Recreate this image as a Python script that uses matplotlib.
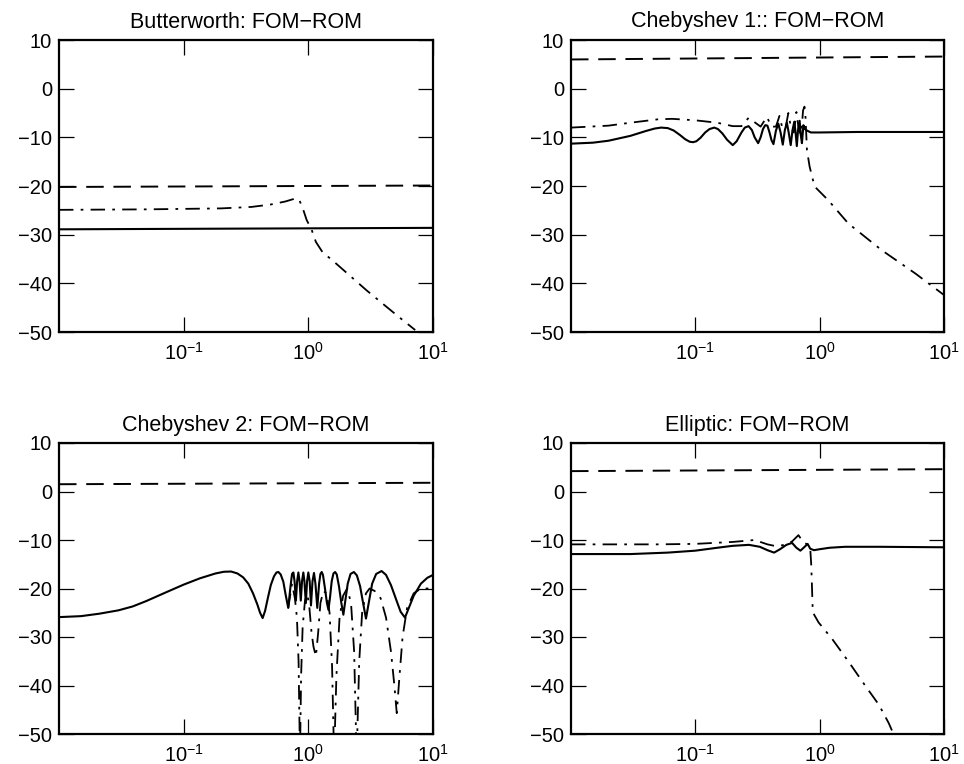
import matplotlib
matplotlib.use("Agg")
import matplotlib.pyplot as plt
from matplotlib.ticker import FixedLocator, NullLocator, LogFormatterSciNotation

# ---- Butterworth ----
bw_dash_f = [0.01, 10]
bw_dash = [-20.2, -19.9]
bw_solid_f = [0.01, 10]
bw_solid = [-28.9, -28.6]
bw_dd_f = [0.01, 0.05, 0.2, 0.35, 0.5, 0.65, 0.78, 0.84, 0.9, 0.97, 1.06, 1.15, 1.3,
           1.58, 2.0, 2.92, 4.0, 5.5, 7.2]
bw_dd = [-24.9, -24.8, -24.6, -24.3, -23.8, -23.2, -22.6, -22.7, -24.5, -27.0, -28.9,
         -31.5, -33.6, -35.4, -37.7, -41.4, -44.3, -47.2, -49.6]

# ---- Chebyshev 1 ----
c1_dash_f = [0.01, 10]
c1_dash = [6.0, 6.6]
c1_solid_f = [0.01, 0.015, 0.02, 0.03, 0.04, 0.047, 0.053, 0.06, 0.067, 0.075, 0.083,
              0.09, 0.096, 0.102, 0.11, 0.12, 0.13, 0.142, 0.152, 0.165, 0.18, 0.2,
              0.215, 0.235, 0.25, 0.268, 0.285, 0.3, 0.32, 0.335, 0.35, 0.365, 0.38,
              0.395, 0.41, 0.425, 0.445, 0.465, 0.485, 0.505, 0.525, 0.545, 0.565,
              0.585, 0.605, 0.625, 0.64, 0.655, 0.67, 0.69, 0.705, 0.72, 0.74, 0.76,
              0.79, 0.85, 1.0, 2.0, 10]
c1_solid = [-11.3, -11.1, -10.7, -9.7, -8.7, -8.2, -8.0, -8.1, -8.6, -9.5, -10.4,
            -10.9, -11.0, -10.8, -10.1, -9.0, -8.3, -8.0, -8.3, -9.2, -10.5, -11.6,
            -10.8, -9.0, -8.0, -7.7, -8.5, -10.0, -11.2, -10.0, -8.3, -7.5, -7.6,
            -9.0, -10.6, -11.4, -8.6, -7.2, -9.0, -11.5, -8.5, -7.0, -9.2,
            -11.6, -8.5, -6.8, -9.0, -11.8, -8.5, -6.6, -9.5, -11.2, -7.5, -8.3,
            -8.6, -9.0, -9.0, -8.9, -8.9]
c1_dd_f = [0.01, 0.02, 0.03, 0.05, 0.065, 0.1, 0.15, 0.2, 0.235, 0.268, 0.3, 0.335,
           0.376, 0.41, 0.445, 0.475, 0.5, 0.53, 0.56, 0.59, 0.62, 0.65, 0.68, 0.71,
           0.735, 0.755, 0.77, 0.79, 0.83, 0.91, 1.17, 1.7, 3.16, 5.9, 10]
c1_dd = [-8.0, -7.6, -7.0, -6.3, -6.2, -6.5, -7.0, -7.7, -7.7, -6.0, -6.9, -7.8,
         -5.8, -7.8, -7.8, -5.6, -8.0, -8.2, -5.0, -8.3, -9.0, -4.8, -8.5, -9.5,
         -4.5, -3.7, -6.0, -12.6, -16.0, -20.1, -22.9, -27.7, -33.2, -38.0, -42.4]

# ---- Chebyshev 2 ----
c2_dash_f = [0.01, 10]
c2_dash = [1.5, 1.8]
c2_solid_f = [0.01, 0.015, 0.021, 0.03, 0.039, 0.05, 0.072, 0.1, 0.135, 0.18, 0.21,
              0.24, 0.27, 0.3, 0.33, 0.36, 0.39, 0.41, 0.43, 0.45, 0.475, 0.5, 0.53,
              0.555, 0.575, 0.6, 0.63, 0.66, 0.69, 0.72, 0.74, 0.759, 0.775, 0.795,
              0.813, 0.832, 0.85, 0.87, 0.89, 0.912, 0.93, 0.955, 0.977, 1.0, 1.025,
              1.05, 1.08, 1.11, 1.14, 1.18, 1.22, 1.25, 1.28, 1.31, 1.36, 1.41, 1.45,
              1.49, 1.54, 1.59, 1.64, 1.69, 1.76, 1.84, 1.91, 1.98, 2.07, 2.18, 2.32,
              2.45, 2.6, 2.75, 2.9, 3.05, 3.25, 3.5, 3.87, 4.2, 4.6, 5.1, 5.5, 5.96,
              6.4, 7.0, 8.0, 9.0, 10]
c2_solid = [-25.9, -25.7, -25.2, -24.5, -23.7, -22.6, -20.8, -19.2, -17.9, -16.9, -16.55,
            -16.5, -16.9, -17.7, -19.0, -21.0, -23.3, -25.0, -26.1, -24.6, -21.8, -19.3, -17.5,
            -16.7, -16.6, -17.1, -18.6, -21.5, -24.0, -19.5, -17.0, -16.7, -18.5, -22.5,
            -18.5, -16.7, -18.5, -22.5, -18.5, -16.7, -18.5, -23.0, -18.5, -16.7, -18.5,
            -23.5, -18.5, -16.8, -19.0, -24.0, -19.0, -17.0, -16.6, -17.2, -20.0, -23.0, -24.4,
            -22.0, -18.5, -16.9, -16.6, -17.1, -19.5, -23.0, -25.4, -22.5, -19.0, -17.0, -16.6,
            -17.3, -19.5, -23.0, -26.2, -23.0, -19.0, -17.0, -16.4, -17.2, -19.3, -22.5, -24.8, -26.0,
            -24.0, -21.5, -19.0, -17.8, -17.2]
c2_dd_f = [0.69, 0.74, 0.78, 0.81, 0.835, 0.857, 0.875, 0.9, 0.94, 0.98, 1.02, 1.06,
           1.1, 1.15, 1.2, 1.25, 1.32, 1.4, 1.48, 1.55, 1.61, 1.68, 1.78, 1.9, 2.05,
           2.2, 2.33, 2.44, 2.56, 2.7, 2.9, 3.1, 3.4, 3.8, 4.2, 4.6, 4.9, 5.12, 5.35,
           5.7, 6.2, 7.0, 8.0, 10]
c2_dd = [-24.0, -19.0, -22.0, -26.0, -35.0, -55.0, -38.0, -28.0, -22.5, -21.0, -24.0, -29.0,
         -32.0, -34.0, -29.0, -23.0, -20.5, -21.0, -25.0, -36.0, -55.0, -38.0, -26.0, -21.5, -20.0,
         -23.0, -33.0, -55.0, -35.0, -25.0, -21.0, -20.0, -20.5, -22.0, -26.0, -33.0, -40.0, -45.7, -39.0,
         -30.0, -24.0, -21.0, -20.0, -20.0]

# ---- Elliptic ----
el_dash_f = [0.01, 10]
el_dash = [4.2, 4.6]
el_solid_f = [0.01, 0.03, 0.06, 0.1, 0.15, 0.2, 0.27, 0.33, 0.38, 0.43, 0.48, 0.54,
              0.6, 0.65, 0.7, 0.75, 0.8, 0.84, 0.9, 1.0, 1.2, 1.6, 3.0, 10]
el_solid = [-12.9, -12.9, -12.6, -12.2, -11.6, -11.2, -11.0, -11.4, -12.1, -12.6, -11.9, -11.0,
            -10.6, -11.6, -12.2, -11.5, -10.8, -11.8, -12.1, -11.9, -11.6, -11.4, -11.4, -11.5]
el_dd_f = [0.01, 0.05, 0.1, 0.2, 0.3, 0.38, 0.45, 0.52, 0.6, 0.675, 0.74, 0.81, 0.84,
           0.855, 0.865, 0.88, 0.98, 1.26, 1.72, 2.32, 3.0, 3.6, 4.0]
el_dd = [-10.9, -10.9, -10.8, -10.4, -10.0, -10.9, -11.3, -11.0, -10.3, -9.0, -10.5, -11.0, -11.8,
         -15.0, -18.7, -24.9, -27.0, -30.4, -35.2, -40.0, -44.0, -47.8, -50.5]

titles = ["Butterworth: FOM\u2212ROM", "Chebyshev 1:: FOM\u2212ROM",
          "Chebyshev 2: FOM\u2212ROM", "Elliptic: FOM\u2212ROM"]
panels = [
    (bw_dash_f, bw_dash, bw_solid_f, bw_solid, bw_dd_f, bw_dd),
    (c1_dash_f, c1_dash, c1_solid_f, c1_solid, c1_dd_f, c1_dd),
    (c2_dash_f, c2_dash, c2_solid_f, c2_solid, c2_dd_f, c2_dd),
    (el_dash_f, el_dash, el_solid_f, el_solid, el_dd_f, el_dd),
]

plt.rcParams['font.family'] = ['Liberation Sans', 'DejaVu Sans']
plt.rcParams['mathtext.fontset'] = 'custom'
plt.rcParams['mathtext.rm'] = 'Liberation Sans'

W, H = 964, 764
boxes = [(59, 40, 433, 332), (571, 40, 944, 332),
         (59, 443, 433, 734), (571, 443, 944, 734)]

fig = plt.figure(figsize=(W / 100, H / 100), dpi=100)

for (x0, y0, x1, y1), title, data in zip(boxes, titles, panels):
    ax = fig.add_axes([x0 / W, 1 - y1 / H, (x1 - x0) / W, (y1 - y0) / H])
    df, dv, sf, sv, ddf, ddv = data
    ax.plot(df, dv, color='black', lw=1.4, linestyle=(0, (9, 5)))
    ax.plot(ddf, ddv, color='black', lw=1.3, linestyle=(0, (8, 4, 1.5, 4)))
    ax.plot(sf, sv, color='black', lw=1.5)
    ax.set_xscale('log')
    ax.set_xlim(0.01, 10)
    ax.set_ylim(-50, 10)
    ax.xaxis.set_major_locator(FixedLocator([0.1, 1, 10]))
    ax.xaxis.set_major_formatter(LogFormatterSciNotation())
    ax.xaxis.set_minor_locator(NullLocator())
    ax.set_yticks(range(-50, 11, 10))
    ax.tick_params(direction='in', length=11, width=0.9, top=True, right=True,
                   labelsize=14.5)
    ax.tick_params(axis='x', pad=7)
    ax.tick_params(axis='y', pad=5)
    for sp in ax.spines.values():
        sp.set_linewidth(1.6)
    ax.set_title(title, fontsize=15.5, pad=9)

fig.savefig("out.png", dpi=100)
